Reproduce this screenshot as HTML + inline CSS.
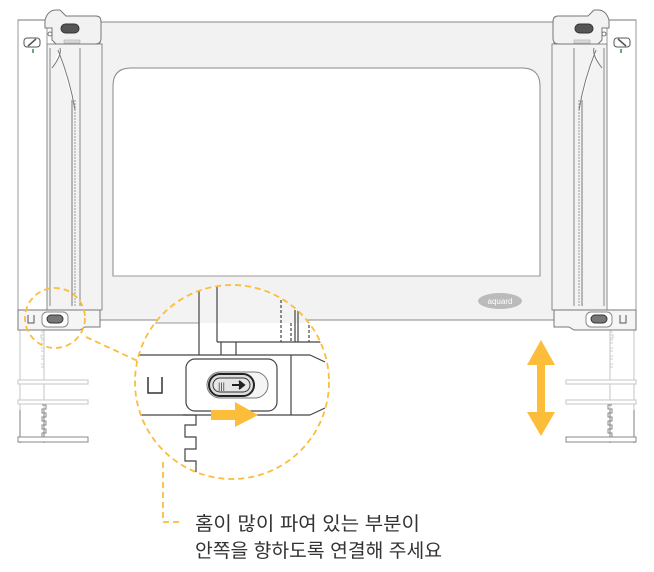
<!DOCTYPE html>
<html><head><meta charset="utf-8"><style>
html,body{margin:0;padding:0;background:#fff;}
svg{display:block}
text{font-family:"Liberation Sans","Noto Sans CJK KR",sans-serif}
</style></head><body>
<svg width="654" height="572" viewBox="0 0 654 572" xmlns="http://www.w3.org/2000/svg">
<defs>
<g id="side">
  <g stroke="#cfcfcf" fill="none" stroke-width="1.2">
    <line x1="20" y1="328" x2="20" y2="443"/>
    <line x1="44" y1="328" x2="44" y2="443"/>
    <rect x="18" y="380" width="70" height="4" fill="#fff"/>
    <rect x="18" y="400" width="70" height="4" fill="#fff"/>
  </g>
  <g stroke="#888" fill="none" stroke-width="1">
    <path d="M42 405 h4 v4 h-4 v4 h4 v4 h-4 v4 h4 v4 h-4 v4 h4 v4 h-4 v4 h4"/>
    <line x1="20" y1="410" x2="20" y2="443"/>
    <line x1="44" y1="410" x2="44" y2="443"/>
    <rect x="18" y="437" width="70" height="5" fill="#fff"/>
  </g>
  <g stroke="#ccc" fill="none"><path d="M41 332 h3 v3 h-3 v3 h3 M41 340 h3 v3 h-3 M41 348 h3 v3 h-3 M41 356 h3 v3 h-3 M41 364 h3 v3 h-3"/></g>
  <rect x="18" y="20" width="29" height="290" fill="#fff" stroke="#999"/>
  <rect x="47" y="44" width="55" height="266" fill="#f3f3f3" stroke="#888"/>
  <line x1="50" y1="48" x2="50" y2="306" stroke="#888"/>
  <line x1="80" y1="48" x2="80" y2="306" stroke="#888"/>
  <line x1="72" y1="100" x2="72" y2="306" stroke="#777"/>
  <line x1="75" y1="100" x2="75" y2="306" stroke="#999" stroke-dasharray="2 1"/>
  <path d="M58 50 Q70 80 75 110 M52 68 Q62 55 60 48" stroke="#777" fill="#fff"/>
  <path d="M18 20 H45 Q48 10 56 10 H60 L66 16 H96 Q101 16 101 22 V38 Q101 44 95 44 H56 L52 40 V28 H45 V20" fill="#f2f2f2" stroke="#777"/>
  <rect x="61" y="24" width="18" height="9" rx="4.5" fill="#555" stroke="#333"/>
  <rect x="24" y="38" width="16" height="9" rx="3" fill="#fff" stroke="#555"/>
  <line x1="28" y1="46" x2="36" y2="39" stroke="#555" stroke-width="1.5"/>
  <rect x="32" y="49" width="2" height="4" fill="#6a7"/>
  <circle cx="50" cy="34" r="2" fill="#fff" stroke="#777"/>
  <rect x="64" y="40" width="16" height="3" fill="#ddd" stroke="#999" stroke-width=".5"/>
  <path d="M18 310 H100 V327 H85 L80 330 H18 Z" fill="#f5f5f5" stroke="#777"/>
  <rect x="42" y="312" width="26" height="15" rx="5" fill="#fff" stroke="#888"/>
  <rect x="47" y="315" width="16" height="8" rx="4" fill="#777" stroke="#333"/>
  <path d="M28 315 v8 h6 v-8" fill="none" stroke="#555"/>
</g>
<clipPath id="mag"><circle cx="232" cy="382" r="97"/></clipPath>
</defs>

<rect x="100" y="22" width="454" height="298" fill="#f2f2f2" stroke="#888"/>
<path d="M113 276 V86 Q113 68 131 68 H522 Q540 68 540 86 V276 Z" fill="#fff" stroke="#888"/>
<line x1="113" y1="276" x2="540" y2="276" stroke="#999"/>
<ellipse cx="500" cy="301" rx="22" ry="8" fill="#bbb"/>
<text x="500" y="304" font-size="8" fill="#fff" text-anchor="middle">aquard</text>

<use href="#side"/>
<use href="#side" transform="translate(654,0) scale(-1,1)"/>

<g clip-path="url(#mag)">
  <rect x="130" y="280" width="210" height="200" fill="#fff"/>
  <rect x="130" y="280" width="210" height="43" fill="#f3f3f3"/>
  <line x1="130" y1="323" x2="199" y2="323" stroke="#999"/>
  <g stroke="#444" fill="none" stroke-width="1.2">
    <line x1="199" y1="280" x2="199" y2="355"/>
    <line x1="217" y1="280" x2="217" y2="342"/>
    <line x1="217" y1="342" x2="330" y2="342"/>
    <line x1="221" y1="342" x2="221" y2="355"/>
    <line x1="236" y1="342" x2="236" y2="355"/>
    <line x1="130" y1="355" x2="310" y2="355"/>
    <line x1="130" y1="415" x2="310" y2="415"/>
    <line x1="291" y1="355" x2="291" y2="415"/>
    <path d="M310 355 L325 362 M310 415 L325 408"/>
    <line x1="291" y1="323" x2="291" y2="342" stroke-dasharray="3 2"/>
    <line x1="295" y1="310" x2="295" y2="342"/>
    <line x1="298" y1="310" x2="298" y2="342"/>
    <line x1="281" y1="300" x2="281" y2="342" stroke-dasharray="3 2"/>
    <line x1="309" y1="325" x2="309" y2="342" stroke-dasharray="3 2"/>
    <path d="M183 415 H196 V425 H185 V437 H196 V449 H185 V461 H196 V473 H185 V485"/>
  </g>
  <rect x="186" y="359" width="91" height="52" rx="9" fill="#fff" stroke="#444" stroke-width="1.2"/>
  <rect x="207" y="372" width="61" height="26" rx="13" fill="#f5f5f5" stroke="#777"/>
  <rect x="209" y="374" width="45" height="22" rx="11" fill="#ddd" stroke="#222" stroke-width="2"/>
  <rect x="213" y="378" width="37" height="14" rx="7" fill="#e6e6e6" stroke="#333"/>
  <text x="218" y="389" font-size="9" fill="#333">|||</text>
  <path d="M232 385 H242 M239 381 L244 385 L239 389" stroke="#222" stroke-width="2" fill="#222"/>
  <path d="M148 377 V393 H162 V377" fill="none" stroke="#333" stroke-width="1.5"/>
  <path d="M211 410 H235 V402 L258 415 L235 427 V420 H211 Z" fill="#fbbd3a"/>
</g>
<circle cx="232" cy="382" r="97" fill="none" stroke="#fbbd3a" stroke-width="1.8" stroke-dasharray="6 4"/>
<circle cx="55" cy="318" r="30" fill="none" stroke="#fbbd3a" stroke-width="1.8" stroke-dasharray="6 4"/>
<path d="M86 337 L140 362" stroke="#fbbd3a" stroke-width="1.8" stroke-dasharray="6 4"/>
<path d="M163 462 V522 H183" fill="none" stroke="#fbbd3a" stroke-width="1.8" stroke-dasharray="6 4"/>

<path d="M541 340 L555 365 H545 V412 H555 L541 436 L527 412 H537 V365 H527 Z" fill="#fbbd3a"/>

<text x="195" y="530" font-size="19" fill="#333" textLength="225" lengthAdjust="spacingAndGlyphs">홈이 많이 파여 있는 부분이</text>
<text x="195" y="557" font-size="19" fill="#333" textLength="247" lengthAdjust="spacingAndGlyphs">안쪽을 향하도록 연결해 주세요</text>
</svg>
</body></html>
